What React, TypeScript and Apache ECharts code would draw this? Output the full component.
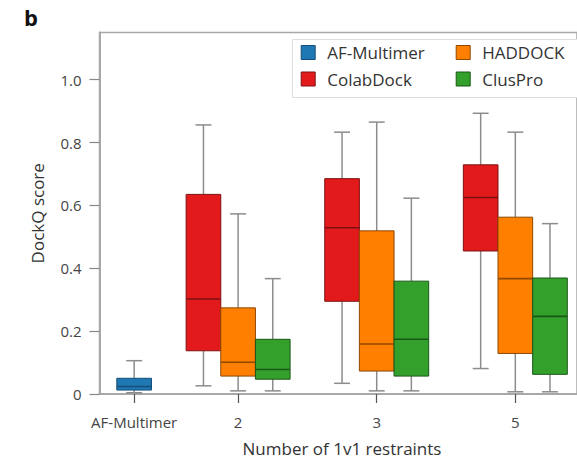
import React, { useEffect, useRef } from 'react';
import * as echarts from 'echarts';

// ---- data ----
const groupLabels = ['AF-Multimer', '2', '3', '5'];
const groupPositions = [1.25, 2, 3, 4];
const yTicks = [0, 0.2, 0.4, 0.6, 0.8, 1.0];

// each row: [low whisker, q1, median, q3, high whisker]
const afMultimer = [[0.004, 0.0125, 0.024, 0.05, 0.106]];
const colabDock = [
  [0.026, 0.1375, 0.302, 0.635, 0.856],
  [0.034, 0.295, 0.529, 0.685, 0.833],
  [0.081, 0.455, 0.625, 0.729, 0.893],
];
const haddock = [
  [0.01, 0.057, 0.101, 0.274, 0.573],
  [0.01, 0.073, 0.159, 0.519, 0.865],
  [0.007, 0.129, 0.367, 0.5625, 0.833],
];
const clusPro = [
  [0.01, 0.047, 0.078, 0.174, 0.367],
  [0.01, 0.057, 0.174, 0.359, 0.623],
  [0.007, 0.0625, 0.247, 0.369, 0.542],
];

const BOX_W = 0.25;
const FONT = "'Open Sans', sans-serif";

const methods = [
  { name: 'AF-Multimer', fill: '#1f78b4', edge: '#154e78', rows: afMultimer, groups: [0], offset: 0 },
  { name: 'ColabDock', fill: '#e31a1c', edge: '#7e1012', rows: colabDock, groups: [1, 2, 3], offset: -1 },
  { name: 'HADDOCK', fill: '#ff7f00', edge: '#8f4800', rows: haddock, groups: [1, 2, 3], offset: 0 },
  { name: 'ClusPro', fill: '#33a02c', edge: '#1b5717', rows: clusPro, groups: [1, 2, 3], offset: 1 },
];

const WHISKER = '#8c8c8c';

function makeRender(fill: string, edge: string) {
  return (params: any, api: any) => {
    const x = api.value(0);
    const low = api.coord([x, api.value(1)]);
    const q1 = api.coord([x, api.value(2)]);
    const med = api.coord([x, api.value(3)]);
    const q3 = api.coord([x, api.value(4)]);
    const high = api.coord([x, api.value(5)]);
    const w = api.size([BOX_W, 0])[0];
    const cap = w * 0.46;
    const cx = low[0];
    const line = (x1: number, y1: number, x2: number, y2: number, stroke: string, lw: number) => ({
      type: 'line',
      shape: { x1, y1, x2, y2 },
      style: { stroke, lineWidth: lw },
    });
    return {
      type: 'group',
      children: [
        line(cx, q3[1], cx, high[1], WHISKER, 1.5),
        line(cx, q1[1], cx, low[1], WHISKER, 1.5),
        line(cx - cap / 2, high[1], cx + cap / 2, high[1], WHISKER, 1.5),
        line(cx - cap / 2, low[1], cx + cap / 2, low[1], WHISKER, 1.5),
        {
          type: 'rect',
          shape: { x: cx - w / 2, y: q3[1], width: w, height: q1[1] - q3[1] },
          style: { fill, stroke: edge, lineWidth: 1 },
        },
        line(cx - w / 2, med[1], cx + w / 2, med[1], edge, 1.6),
      ],
    };
  };
}

export default function App() {
  const ref = useRef<HTMLDivElement>(null);
  useEffect(() => {
    if (!ref.current) return;
    const chart = echarts.init(ref.current, null, { renderer: 'svg' });
    const series = methods.map((m) => ({
      type: 'custom',
      name: m.name,
      itemStyle: { color: m.fill, borderColor: m.edge },
      renderItem: makeRender(m.fill, m.edge),
      encode: { x: 0, y: [1, 2, 3, 4, 5] },
      data: m.rows.map((r, i) => [groupPositions[m.groups[i]] + m.offset * BOX_W, ...r]),
      z: 2,
    }));
    const legendItem = (name: string) => {
      const m = methods.find((k) => k.name === name)!;
      return { name, icon: 'rect', itemStyle: { color: m.fill, borderColor: m.edge, borderWidth: 1 } };
    };
    const legendCommon = {
      orient: 'vertical',
      top: 44,
      padding: 0,
      itemWidth: 14,
      itemHeight: 14,
      itemGap: 9.5,
      selectedMode: false,
      textStyle: { fontSize: 17, lineHeight: 17, color: '#333', fontFamily: FONT, padding: [0, 0, 0, 7] },
    };
    chart.setOption({
      animation: false,
      backgroundColor: '#fff',
      textStyle: { fontFamily: FONT },
      grid: {
        left: 99.5,
        right: -2,
        top: 32.5,
        bottom: 62,
        show: true,
        borderColor: '#a8a8a8',
        borderWidth: 1.5,
      },
      legend: [
        { ...legendCommon, left: 300.7, data: ['AF-Multimer', 'ColabDock'].map(legendItem) },
        { ...legendCommon, left: 455.7, data: ['HADDOCK', 'ClusPro'].map(legendItem) },
      ],
      graphic: [
        {
          type: 'rect',
          left: 292,
          top: 39,
          shape: { width: 300, height: 58 },
          style: { fill: '#fff', stroke: '#dedede', lineWidth: 1 },
          z: 1,
        },
        {
          type: 'text',
          x: 24,
          y: 17,
          style: { text: 'b', fontSize: 22, fontWeight: 'bold', fill: '#111', fontFamily: FONT, verticalAlign: 'middle' },
        },
      ],
      xAxis: {
        type: 'value',
        min: 1,
        max: 4.445,
        name: 'Number of 1v1 restraints',
        nameLocation: 'middle',
        nameGap: 46,
        nameTextStyle: { fontSize: 17, color: '#333', fontFamily: FONT, padding: [0, 0, 0, 7.5] },
        axisLine: { lineStyle: { color: '#a8a8a8', width: 2 } },
        axisTick: { customValues: groupPositions, length: 9, lineStyle: { color: '#555', width: 1.2 } },
        axisLabel: {
          customValues: groupPositions,
          margin: 20,
          fontSize: 15,
          color: '#444',
          fontFamily: FONT,
          formatter: (v: number) => groupLabels[groupPositions.indexOf(v)] ?? '',
        },
        splitLine: { show: false },
      },
      yAxis: {
        type: 'value',
        min: 0,
        max: 1.15,
        name: 'DockQ score',
        nameLocation: 'middle',
        nameGap: 54,
        nameTextStyle: { fontSize: 17, color: '#333', fontFamily: FONT },
        axisLine: { show: true, lineStyle: { color: '#a8a8a8', width: 2 } },
        axisTick: { show: true, customValues: yTicks, length: 10, lineStyle: { color: '#888', width: 1.2 } },
        axisLabel: {
          customValues: yTicks,
          margin: 18,
          fontSize: 15,
          color: '#444',
          fontFamily: FONT,
          formatter: (v: number) => (v === 0 ? '0' : v.toFixed(1)),
        },
        splitLine: { show: false },
      },
      series,
    });
    return () => chart.dispose();
  }, []);
  return <div ref={ref} style={{ position: 'fixed', left: 0, top: 0, width: 577, height: 462 }} />;
}
